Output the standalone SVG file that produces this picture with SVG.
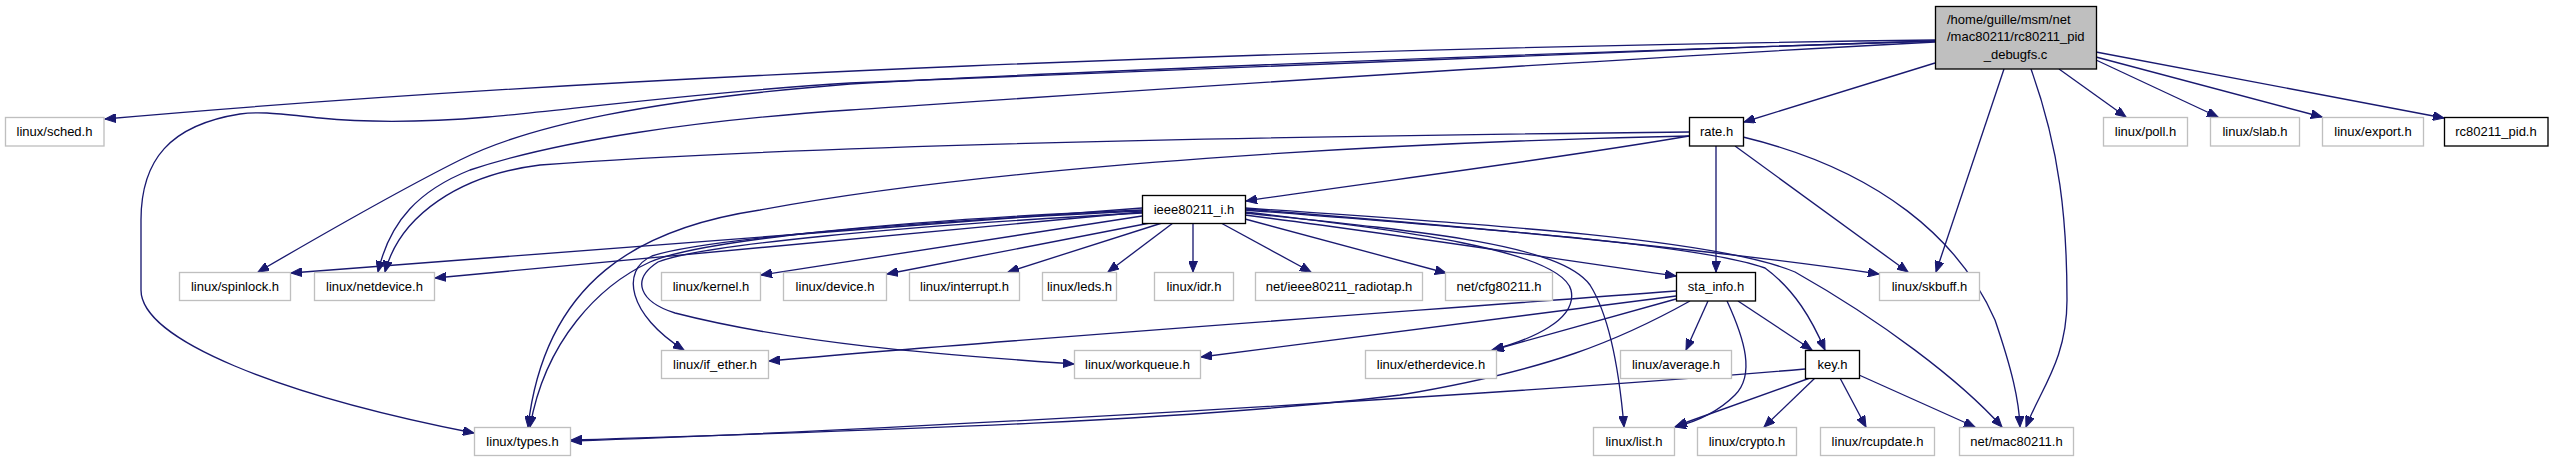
<svg xmlns="http://www.w3.org/2000/svg" width="2552" height="461" viewBox="0 0 2552 461">
<style>
text{font-family:"Liberation Sans",Arial,sans-serif;font-size:13px;fill:#000;text-anchor:middle}
.g{fill:#fff;stroke:#bfbfbf;stroke-width:1.33}
.b{fill:#fff;stroke:#000;stroke-width:1.33}
.r{fill:#bfbfbf;stroke:#000;stroke-width:1.33}
#edges path{fill:none;stroke:#191970;stroke-width:1.33;marker-end:url(#a)}
</style>
<defs>
<marker id="a" markerWidth="12" markerHeight="9" refX="11" refY="4.5" orient="auto" markerUnits="userSpaceOnUse"><path d="M0,0 L11,4.5 L0,9 z" fill="#191970" stroke="#191970" stroke-width="1"/></marker>
</defs>
<rect width="2552" height="461" fill="#fff"/>
<g id="edges">
<path d="M1935,40 C1300,48 600,75 105,119"/>
<path d="M1935,41 C1500,55 1000,75 850,83 C700,92 550,112 488,117 C440,121 380,124 320,118 C280,114 260,111 240,114 C170,125 141,160 141,220 L141,290 C141,340 280,395 474,433"/>
<path d="M1935,41 C1400,58 1000,75 850,84 C650,100 530,125 460,160 C400,190 330,230 258,272"/>
<path d="M1935,42 C1500,65 1000,100 850,110 C700,120 560,140 470,170 C420,190 390,220 378,272"/>
<path d="M1935,63 L1744,122"/>
<path d="M2004,69 L1936,272"/>
<path d="M2031,69 C2060,150 2067,220 2067,300 C2067,360 2040,390 2026,427"/>
<path d="M2059,69 L2126,117"/>
<path d="M2096,60 L2218,117"/>
<path d="M2096,57 L2322,117"/>
<path d="M2096,52 L2444,118"/>
<path d="M1689,136 C1550,160 1350,185 1246,201"/>
<path d="M1716,146 L1716,272"/>
<path d="M1735,146 L1908,272"/>
<path d="M1743,137 C1880,170 1960,240 1995,320 C2012,370 2019,400 2020,427"/>
<path d="M1689,132 C1300,136 800,145 540,165 C460,175 400,215 385,272"/>
<path d="M1689,136 C1400,142 1000,165 760,210 C640,228 545,280 528,427"/>
<path d="M1142,208 L291,273"/>
<path d="M1142,212 L435,278"/>
<path d="M1142,216 L761,275"/>
<path d="M1150,223 L887,274"/>
<path d="M1162,223 L1008,272"/>
<path d="M1173,223 L1108,272"/>
<path d="M1193,223 L1193,272"/>
<path d="M1221,223 L1311,272"/>
<path d="M1245,219 L1446,273"/>
<path d="M1142,210 C900,220 700,240 650,262 C600,285 545,340 530,427"/>
<path d="M1142,211 C900,222 700,240 652,256 C620,270 628,315 684,350"/>
<path d="M1142,213 C900,226 700,245 658,262 C630,280 640,302 675,313 C800,345 950,355 1074,364"/>
<path d="M1245,212 C1400,230 1560,250 1571,290 C1578,320 1530,340 1492,350"/>
<path d="M1245,213 C1430,232 1560,245 1590,285 C1612,320 1620,380 1624,427"/>
<path d="M1245,215 C1400,235 1550,258 1676,276"/>
<path d="M1245,209 C1450,225 1700,248 1879,274"/>
<path d="M1245,210 C1500,230 1700,245 1765,268 C1795,290 1812,320 1825,350"/>
<path d="M1245,208 C1500,225 1720,240 1795,272 C1880,320 1960,380 2002,427"/>
<path d="M1676,291 C1400,312 1000,340 769,361"/>
<path d="M1676,296 L1201,357"/>
<path d="M1676,299 L1493,350"/>
<path d="M1708,301 L1686,350"/>
<path d="M1690,301 C1620,340 1550,370 1400,395 C1200,420 900,430 571,440"/>
<path d="M1727,301 C1745,340 1755,375 1735,395 C1718,412 1695,422 1675,427"/>
<path d="M1738,301 L1812,350"/>
<path d="M1805,369 C1500,395 900,430 571,441"/>
<path d="M1810,378 L1676,426"/>
<path d="M1815,378 L1764,427"/>
<path d="M1840,378 L1866,427"/>
<path d="M1859,375 L1975,427"/>
</g>
<g id="root"><rect class="r" x="1935.5" y="6.5" width="161" height="62.5"/>
<text x="1947" y="23.5" style="text-anchor:start">/home/guille/msm/net</text>
<text x="1947" y="41" style="text-anchor:start">/mac80211/rc80211_pid</text>
<text x="2015.5" y="58.5">_debugfs.c</text></g>
<g id="n_sched"><rect class="g" x="5.5" y="117.5" width="98.5" height="28.5"/><text x="54.5" y="136">linux/sched.h</text></g>
<g id="n_rate"><rect class="b" x="1689.5" y="117.5" width="54" height="28.5"/><text x="1716.5" y="136">rate.h</text></g>
<g id="n_poll"><rect class="g" x="2103.5" y="117.5" width="84" height="28.5"/><text x="2145.5" y="136">linux/poll.h</text></g>
<g id="n_slab"><rect class="g" x="2210.5" y="117.5" width="89" height="28.5"/><text x="2255" y="136">linux/slab.h</text></g>
<g id="n_export"><rect class="g" x="2322.5" y="117.5" width="101" height="28.5"/><text x="2373" y="136">linux/export.h</text></g>
<g id="n_rcpid"><rect class="b" x="2444.5" y="117.5" width="103.5" height="28.5"/><text x="2496" y="136">rc80211_pid.h</text></g>
<g id="n_ieee"><rect class="b" x="1142.5" y="195.5" width="103" height="28"/><text x="1194" y="213.5">ieee80211_i.h</text></g>
<g id="n_spinlock"><rect class="g" x="179.5" y="272.5" width="111" height="28"/><text x="235" y="290.5">linux/spinlock.h</text></g>
<g id="n_netdevice"><rect class="g" x="314.5" y="272.5" width="120" height="28"/><text x="374.5" y="290.5">linux/netdevice.h</text></g>
<g id="n_kernel"><rect class="g" x="661.5" y="272.5" width="99" height="28"/><text x="711" y="290.5">linux/kernel.h</text></g>
<g id="n_device"><rect class="g" x="783.5" y="272.5" width="103" height="28"/><text x="835" y="290.5">linux/device.h</text></g>
<g id="n_interrupt"><rect class="g" x="909.5" y="272.5" width="110" height="28"/><text x="964.5" y="290.5">linux/interrupt.h</text></g>
<g id="n_leds"><rect class="g" x="1042.5" y="272.5" width="74" height="28"/><text x="1079.5" y="290.5">linux/leds.h</text></g>
<g id="n_idr"><rect class="g" x="1154.5" y="272.5" width="79" height="28"/><text x="1194" y="290.5">linux/idr.h</text></g>
<g id="n_radiotap"><rect class="g" x="1255.5" y="272.5" width="167" height="28"/><text x="1339" y="290.5">net/ieee80211_radiotap.h</text></g>
<g id="n_cfg80211"><rect class="g" x="1445.5" y="272.5" width="107" height="28"/><text x="1499" y="290.5">net/cfg80211.h</text></g>
<g id="n_stainfo"><rect class="b" x="1676.5" y="272.5" width="79" height="28.5"/><text x="1716" y="290.5">sta_info.h</text></g>
<g id="n_skbuff"><rect class="g" x="1879.5" y="272.5" width="100" height="28"/><text x="1929.5" y="290.5">linux/skbuff.h</text></g>
<g id="n_ifether"><rect class="g" x="661.5" y="350.5" width="107" height="28"/><text x="715" y="368.5">linux/if_ether.h</text></g>
<g id="n_workqueue"><rect class="g" x="1074.5" y="350.5" width="126" height="28"/><text x="1137.5" y="368.5">linux/workqueue.h</text></g>
<g id="n_etherdevice"><rect class="g" x="1365.5" y="350.5" width="131" height="28"/><text x="1431" y="368.5">linux/etherdevice.h</text></g>
<g id="n_average"><rect class="g" x="1620.5" y="350.5" width="111" height="28"/><text x="1676" y="368.5">linux/average.h</text></g>
<g id="n_key"><rect class="b" x="1805.5" y="350.5" width="54" height="28"/><text x="1832.5" y="368.5">key.h</text></g>
<g id="n_types"><rect class="g" x="474.5" y="427.5" width="96" height="28"/><text x="522.5" y="445.5">linux/types.h</text></g>
<g id="n_list"><rect class="g" x="1593.5" y="427.5" width="81" height="28"/><text x="1634" y="445.5">linux/list.h</text></g>
<g id="n_crypto"><rect class="g" x="1697.5" y="427.5" width="99" height="28"/><text x="1747" y="445.5">linux/crypto.h</text></g>
<g id="n_rcupdate"><rect class="g" x="1820.5" y="427.5" width="114" height="28"/><text x="1877.5" y="445.5">linux/rcupdate.h</text></g>
<g id="n_mac80211"><rect class="g" x="1959.5" y="427.5" width="114" height="28"/><text x="2016.5" y="445.5">net/mac80211.h</text></g>
</svg>
